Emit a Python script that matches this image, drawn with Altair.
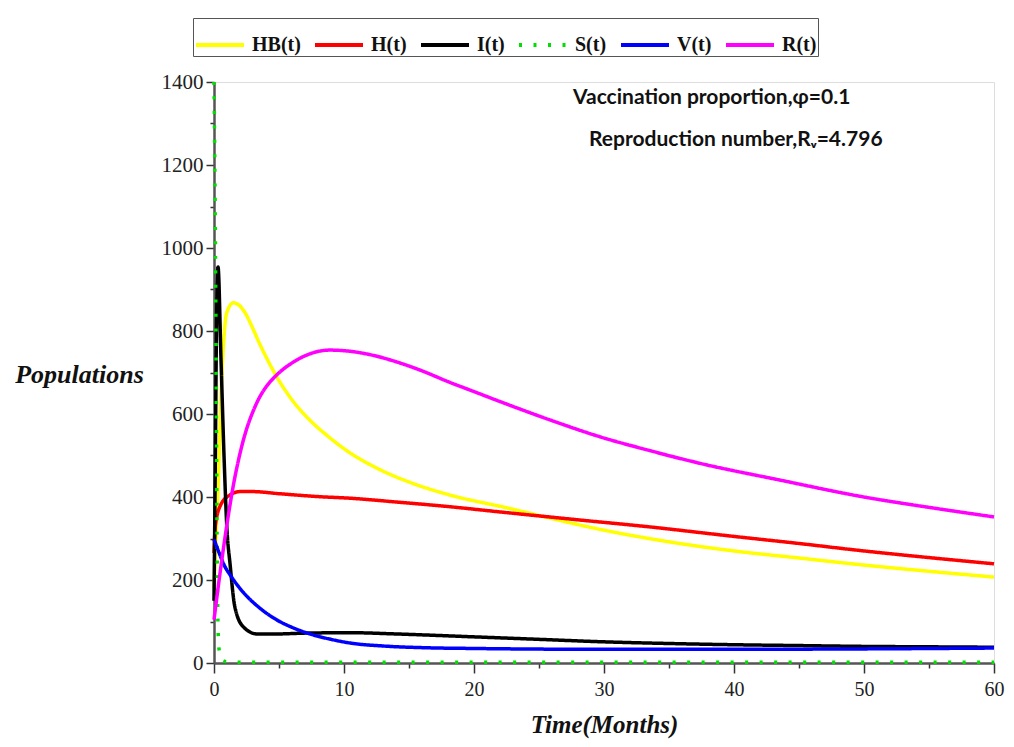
import altair as alt
import pandas as pd

# ---- data ----
series_names = ["HB(t)", "H(t)", "I(t)", "S(t)", "V(t)", "R(t)"]
series_colors = ["#FFFF00", "#FF0000", "#000000", "#00E000", "#0000FF", "#FF00FF"]

hb_t = [0, 0.15, 0.33, 0.59, 0.72, 0.97, 1.49, 2, 2.5, 3, 3.5, 4, 4.82, 6.1, 7.38, 8.67, 10.2, 12.5, 15.1, 18, 22.8, 26, 29.7, 35, 40, 45, 50, 55, 60]
hb_v = [180, 300, 440, 682, 762, 843, 868, 860, 838, 805, 770, 738, 690, 630, 585, 549, 512, 470, 435, 406, 372, 348, 322, 292, 270, 253, 236, 221, 207]

h_t = [0, 0.1, 0.5, 1.23, 2, 3, 5, 8, 10.5, 14, 18, 22, 28, 33.5, 40, 45, 50, 55, 60]
h_v = [265, 330, 380, 405, 413, 413, 408, 401, 397, 388, 377, 364, 345, 328, 305, 288, 270, 254, 239]

i_t = [0, 0.1, 0.2, 0.31, 0.54, 0.77, 1.0, 1.23, 1.6, 2.26, 3.3, 4.8, 7, 10.5, 14, 20, 25, 30, 35, 40, 45, 50, 55, 60]
i_v = [150, 480, 830, 954, 730, 500, 320, 240, 136, 87, 70, 70, 72, 73, 70, 63, 57, 51, 47, 44, 42, 40, 39, 38]

s_t = [0, 0.05, 0.1, 0.15, 0.2, 0.25, 0.3, 0.4, 0.6, 1, 2, 60]
s_v = [1400, 1250, 1050, 800, 500, 250, 100, 30, 8, 3, 2, 2]

v_t = [0, 0.4, 0.72, 1.4, 2.26, 3.5, 4.82, 6, 7.38, 9, 10.5, 13, 16, 20, 30, 40, 50, 60]
v_v = [298, 265, 240, 205, 170, 133, 104, 86, 70, 57, 48, 41, 37, 35, 33, 33, 34, 36]

r_t = [0, 0.5, 1, 1.5, 2, 2.5, 3, 3.5, 4, 4.82, 6.1, 7.38, 8.9, 10.2, 12, 14, 16, 18, 20, 22, 26, 29.7, 33.5, 37.4, 43.5, 50, 55, 60]
r_v = [104, 225, 335, 430, 505, 563, 606, 640, 665, 694, 725, 745, 754, 752, 743, 726, 704, 678, 654, 630, 584, 545, 512, 481, 441, 400, 375, 352]

x_ticks = [0, 5, 10, 15, 20, 25, 30, 35, 40, 45, 50, 55, 60]
y_ticks = [0, 100, 200, 300, 400, 500, 600, 700, 800, 900, 1000, 1100, 1200, 1300, 1400]

annotation_1 = "Vaccination proportion,\u03c6=0.1"
annotation_2 = "Reproduction number,R\u1d65=4.796"

# ---- build table ----
rows = []
for name, ts, vs in zip(series_names,
                        [hb_t, h_t, i_t, s_t, v_t, r_t],
                        [hb_v, h_v, i_v, s_v, v_v, r_v]):
    for k, (t, v) in enumerate(zip(ts, vs)):
        rows.append({"series": name, "t": t, "v": v, "order": k})
df = pd.DataFrame(rows)

W, H = 780, 581
SERIF = "Liberation Serif"
ANN_FONT = "Lato"

x_scale = alt.Scale(domain=[0, 60], nice=False, zero=False)
y_scale = alt.Scale(domain=[0, 1400], nice=False)

legend = alt.Legend(
    orient="none", legendX=-21, legendY=-64, direction="horizontal", title=None,
    symbolType="stroke", symbolSize=2304, symbolStrokeWidth=4,
    labelFont=SERIF, labelFontSize=20, labelFontWeight="bold", labelColor="#111",
    labelOffset=6, columnPadding=6, strokeColor="#555", fillColor="white", padding=1,
)

lines = alt.Chart(df).mark_line(strokeWidth=3.5, interpolate="monotone", strokeCap="butt").encode(
    x=alt.X("t:Q", scale=x_scale,
            axis=alt.Axis(values=x_ticks, tickWidth=1.5, tickColor="#333", format="d",
                          tickSize={"expr": "datum.value % 10 === 0 ? 10 : 5"},
                          labelExpr="datum.value % 10 === 0 ? datum.label : ''",
                          labelFlush=False,
                          domainColor="#555", domainWidth=2.5, grid=False,
                          labelFont=SERIF, labelFontSize=20, labelColor="#222", labelPadding=6,
                          title="Time(Months)", titleFont=SERIF, titleFontSize=25,
                          titleFontStyle="italic", titleFontWeight="bold", titleColor="#111",
                          titlePadding=13)),
    y=alt.Y("v:Q", scale=y_scale,
            axis=alt.Axis(values=y_ticks, tickWidth=1.5, tickColor="#333", format="d",
                          tickSize={"expr": "datum.value % 200 === 0 ? 8 : 4"},
                          labelExpr="datum.value % 200 === 0 ? datum.label : ''",
                          labelFlush=False,
                          domainColor="#555", domainWidth=2.5, grid=False,
                          labelFont=SERIF, labelFontSize=21, labelColor="#222", labelPadding=3,
                          title="Populations", titleFont=SERIF, titleFontSize=26,
                          titleFontStyle="italic", titleFontWeight="bold", titleColor="#111",
                          titleAngle=0, titleAlign="center", titleBaseline="alphabetic",
                          titleX=-135, titleY=300)),
    color=alt.Color("series:N", scale=alt.Scale(domain=series_names, range=series_colors), legend=legend),
    strokeDash=alt.StrokeDash("series:N",
                              scale=alt.Scale(domain=series_names,
                                              range=[[1, 0], [1, 0], [1, 0], [3, 11.5], [1, 0], [1, 0]]),
                              legend=legend),
    order="order:Q",
)

ann1 = alt.Chart(pd.DataFrame({"txt": [annotation_1]})).mark_text(
    align="left", baseline="middle", font=ANN_FONT, fontSize=21, fontWeight="bold", color="#111"
).encode(x=alt.value(359), y=alt.value(16), text="txt:N")
ann2 = alt.Chart(pd.DataFrame({"txt": [annotation_2]})).mark_text(
    align="left", baseline="middle", font=ANN_FONT, fontSize=21, fontWeight="bold", color="#111"
).encode(x=alt.value(375), y=alt.value(58), text="txt:N")

chart = alt.layer(lines, ann1, ann2).properties(
    width=W, height=H,
    autosize=alt.AutoSizeParams(type="none"),
    padding={"left": 206, "top": 74, "right": 12, "bottom": 76},
).configure_view(stroke=None).configure(background="white")

chart.save("out.html", embed_options={"renderer": "svg", "actions": False})
